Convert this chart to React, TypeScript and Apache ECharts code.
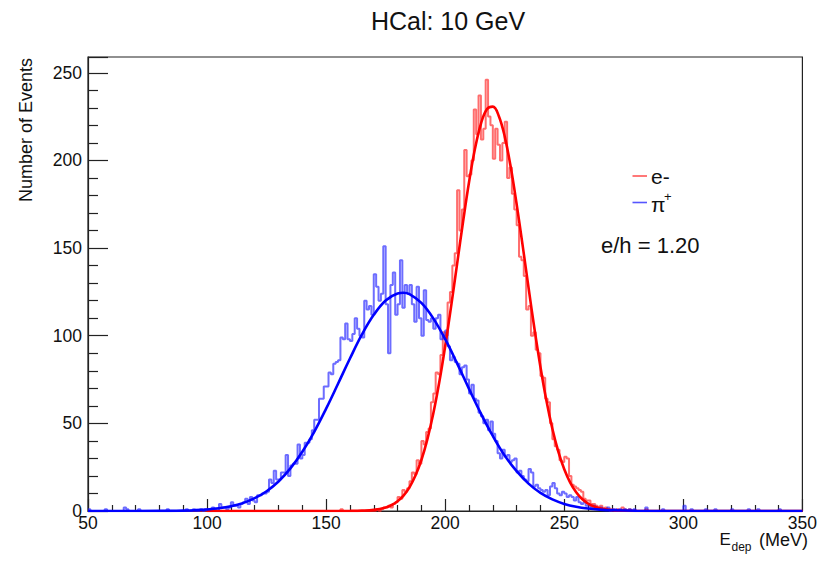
import React, { useEffect, useRef } from "react";
import * as echarts from "echarts";

// ---- Data ----
const xMin = 50;
const xMax = 350;
const yMax = 259;
const xTicks = [50, 100, 150, 200, 250, 300, 350];
const yTicks = [0, 50, 100, 150, 200, 250];

// e- histogram, 1 MeV bins, first bin starts at redStart
const redStart = 170;
const redCounts = [
  0, 1, 0, 1, 2, 2, 3, 2, 4, 5,
  8, 7, 12, 11, 13, 17, 22, 21, 29, 27,
  40, 38, 45, 47, 62, 67, 79, 78, 89, 102,
  100, 119, 125, 140, 147, 183, 160, 172, 206, 191,
  192, 200, 229, 215, 237, 212, 218, 246, 225, 220,
  201, 218, 209, 200, 210, 222, 190, 196, 181, 172,
  163, 145, 143, 134, 115, 117, 100, 102, 92, 90,
  77, 76, 64, 62, 50, 41, 37, 35, 29, 28,
  31, 30, 20, 15, 14, 13, 12, 11, 7, 6,
  6, 4, 4, 3, 2, 3, 1, 2, 1, 1,
  1, 0, 1, 0, 2, 1, 0, 1, 0, 0,
];
const redSparse: [number, number][] = [[156, 1], [284, 1]];

// pi+ histogram, 1 MeV bins, first bin starts at blueStart
const blueStart = 96;
const blueCounts = [
  0, 1, 0, 1,
  1, 0, 2, 1, 0, 4, 2, 2, 1, 2,
  5, 3, 3, 2, 4, 5, 7, 4, 8, 6,
  5, 9, 9, 10, 10, 11, 18, 16, 23, 18,
  18, 22, 22, 32, 20, 26, 27, 27, 38, 30,
  32, 39, 39, 41, 46, 52, 52, 64, 64, 71,
  71, 79, 78, 84, 85, 86, 99, 98, 107, 98,
  97, 101, 110, 104, 100, 99, 120, 115, 117, 112,
  135, 128, 120, 124, 151, 118, 90, 129, 136, 112,
  118, 143, 116, 129, 124, 129, 118, 108, 128, 110,
  100, 126, 109, 108, 110, 104, 110, 112, 98, 100,
  103, 94, 86, 88, 85, 84, 78, 82, 83, 75,
  67, 72, 64, 63, 56, 54, 50, 52, 46, 51,
  44, 40, 33, 30, 35, 31, 32, 28, 29, 30,
  22, 23, 20, 18, 17, 24, 22, 14, 15, 13,
  12, 11, 12, 9, 14, 16, 13, 10, 9, 11,
  10, 8, 9, 8, 6, 8, 5, 4, 5, 3,
  3, 2, 3, 2, 1, 2, 1, 1, 2, 0,
  1, 1, 0, 1, 0, 1, 0, 1, 0, 1,
];
const blueSparse: [number, number][] = [
  [50, 1], [57, 1], [65, 2], [66, 1], [71, 1], [83, 1], [91, 1], [94, 1],
  [284, 2], [291, 1], [300, 3], [303, 1], [309, 1], [313, 1], [320, 1],
  [327, 1], [331, 1], [340, 1],
];

// fit curves
const redFitX = [
  100, 150, 160, 165, 170, 175, 177.5, 180, 182.5, 185, 187.5, 190, 192.5, 195,
  197.5, 200, 202.5, 205, 207.5, 210, 212.5, 215, 217.5, 220, 222.5, 225, 227.5,
  230, 232.5, 235, 237.5, 240, 242.5, 245, 247.5, 250, 252.5, 255, 257.5, 260,
  262.5, 265, 270, 275, 280, 300, 350,
];
const redFitY = [
  0, 0, 0.05, 0.19, 0.66, 2.04, 3.42, 5.6, 8.8, 13.5, 20.2, 29.1, 40.9, 55.6,
  73.4, 94.1, 116.9, 141.0, 165.0, 187.5, 206.6, 220.9, 229.2, 230.7, 225.4,
  213.6, 196.4, 175.1, 151.7, 127.4, 103.8, 82.2, 63.0, 46.9, 33.9, 23.8, 16.2,
  10.7, 6.84, 4.24, 2.56, 1.5, 0.47, 0.13, 0.03, 0, 0,
];
const blueFitX = [
  50, 80, 90, 95, 100, 105, 110, 115, 120, 125, 130, 135, 140, 145, 150, 155,
  160, 165, 170, 175, 180, 182.5, 185, 190, 195, 200, 205, 210, 215, 220, 225,
  230, 235, 240, 245, 250, 255, 260, 265, 270, 280, 300, 350,
];
const blueFitY = [
  0, 0.06, 0.24, 0.46, 0.86, 1.55, 2.69, 4.5, 7.3, 11.3, 16.85, 24.3, 33.8,
  45.2, 58.4, 72.6, 87.0, 100.6, 111.9, 120.1, 124.1, 124.5, 123.7, 118.7,
  109.9, 98.0, 84.2, 69.7, 55.6, 42.8, 31.6, 22.7, 15.6, 10.3, 6.6, 4.06, 2.41,
  1.38, 0.76, 0.40, 0.10, 0, 0,
];

const FONT = "'Liberation Sans', Arial, Helvetica, sans-serif";

function buildHist(start: number, counts: number[], sparse: [number, number][]) {
  const n = xMax - xMin;
  const full: number[] = new Array(n).fill(0);
  counts.forEach((c, i) => {
    full[start - xMin + i] = c;
  });
  sparse.forEach(([e, c]) => {
    full[e - xMin] = c;
  });
  const data = full.map((c, i) => [xMin + i, c]);
  data.push([xMax, full[n - 1]]);
  return data;
}

export default function App() {
  const ref = useRef<HTMLDivElement>(null);
  useEffect(() => {
    if (!ref.current) return;
    const chart = echarts.init(ref.current, undefined, { renderer: "svg" });
    const redHist = buildHist(redStart, redCounts, redSparse);
    const blueHist = buildHist(blueStart, blueCounts, blueSparse);
    const redFit = redFitX.map((x, i) => [x, redFitY[i]]);
    const blueFit = blueFitX.map((x, i) => [x, blueFitY[i]]);

    chart.setOption({
      animation: false,
      backgroundColor: "#ffffff",
      grid: {
        left: 88,
        top: 57,
        width: 718,
        height: 454,
        show: true,
        borderColor: "#222",
        borderWidth: 1.2,
        backgroundColor: "transparent",
      },
      xAxis: {
        type: "value",
        min: xMin,
        max: xMax,
        interval: 50,
        axisLine: { show: true, onZero: false, lineStyle: { color: "#222", width: 1.2 } },
        axisTick: { show: true, inside: true, length: 12, lineStyle: { color: "#222", width: 1.2 } },
        minorTick: { show: true, splitNumber: 5, length: 6, lineStyle: { color: "#222", width: 1.2 } },
        splitLine: { show: false },
        axisLabel: {
          margin: 3,
          fontSize: 17.5,
          color: "#111",
          fontFamily: FONT,
          formatter: (v: number) => (xTicks.includes(v) ? String(v) : ""),
        },
      },
      yAxis: {
        type: "value",
        min: 0,
        max: yMax,
        interval: 50,
        axisLine: { show: true, lineStyle: { color: "#222", width: 1.2 } },
        axisTick: { show: true, inside: true, length: 20, lineStyle: { color: "#222", width: 1.2 } },
        minorTick: { show: true, splitNumber: 5, length: 10, lineStyle: { color: "#222", width: 1.2 } },
        splitLine: { show: false },
        axisLabel: {
          margin: 6,
          fontSize: 17.5,
          color: "#111",
          fontFamily: FONT,
          formatter: (v: number) => (yTicks.includes(v) ? String(v) : ""),
        },
      },
      series: [
        {
          type: "line",
          name: "e- hist",
          data: redHist,
          step: "end",
          showSymbol: false,
          symbol: "none",
          lineStyle: { color: "rgba(255,30,30,0.65)", width: 2 },
          z: 2,
        },
        {
          type: "line",
          name: "pi hist",
          data: blueHist,
          step: "end",
          showSymbol: false,
          symbol: "none",
          lineStyle: { color: "rgba(30,30,255,0.65)", width: 2 },
          z: 3,
        },
        {
          type: "line",
          name: "e- fit",
          data: redFit,
          smooth: 0.4,
          showSymbol: false,
          symbol: "none",
          lineStyle: { color: "#ff0000", width: 2.6 },
          z: 4,
        },
        {
          type: "line",
          name: "pi fit",
          data: blueFit,
          smooth: 0.4,
          showSymbol: false,
          symbol: "none",
          lineStyle: { color: "#0000ff", width: 2.6 },
          z: 5,
        },
      ],
      graphic: [
        {
          type: "text",
          x: 448,
          y: 21,
          style: {
            text: "HCal: 10 GeV",
            fontSize: 25,
            fontFamily: FONT,
            fill: "#111",
            align: "center",
            verticalAlign: "middle",
          },
        },
        {
          type: "text",
          x: 26,
          y: 58,
          rotation: Math.PI / 2,
          style: {
            text: "Number of Events",
            fontSize: 18,
            fontFamily: FONT,
            fill: "#111",
            align: "right",
            verticalAlign: "middle",
          },
        },
        {
          type: "text",
          x: 719.5,
          y: 539,
          style: { text: "E", fontSize: 17, fontFamily: FONT, fill: "#111", align: "left", verticalAlign: "middle" },
        },
        {
          type: "text",
          x: 731.5,
          y: 547,
          style: { text: "dep", fontSize: 12, fontFamily: FONT, fill: "#111", align: "left", verticalAlign: "middle" },
        },
        {
          type: "text",
          x: 808,
          y: 540,
          style: { text: "(MeV)", fontSize: 18, fontFamily: FONT, fill: "#111", align: "right", verticalAlign: "middle" },
        },
        {
          type: "line",
          shape: { x1: 632.5, y1: 176, x2: 647, y2: 176 },
          style: { stroke: "rgba(255,30,30,0.75)", lineWidth: 1.6 },
        },
        {
          type: "text",
          x: 651,
          y: 176,
          style: { text: "e-", fontSize: 21, fontFamily: FONT, fill: "#111", align: "left", verticalAlign: "middle" },
        },
        {
          type: "line",
          shape: { x1: 632.5, y1: 202.5, x2: 647, y2: 202.5 },
          style: { stroke: "rgba(30,30,255,0.75)", lineWidth: 1.6 },
        },
        {
          type: "text",
          x: 651,
          y: 204,
          style: { text: "π", fontSize: 21, fontFamily: FONT, fill: "#111", align: "left", verticalAlign: "middle" },
        },
        {
          type: "text",
          x: 664,
          y: 196,
          style: { text: "+", fontSize: 13, fontFamily: FONT, fill: "#111", align: "left", verticalAlign: "middle" },
        },
        {
          type: "text",
          x: 601,
          y: 245,
          style: { text: "e/h = 1.20", fontSize: 22, fontFamily: FONT, fill: "#111", align: "left", verticalAlign: "middle" },
        },
      ],
    });
    return () => chart.dispose();
  }, []);
  return (
    <div
      ref={ref}
      style={{ position: "fixed", left: 0, top: 0, width: 820, height: 564, background: "#fff" }}
    />
  );
}
